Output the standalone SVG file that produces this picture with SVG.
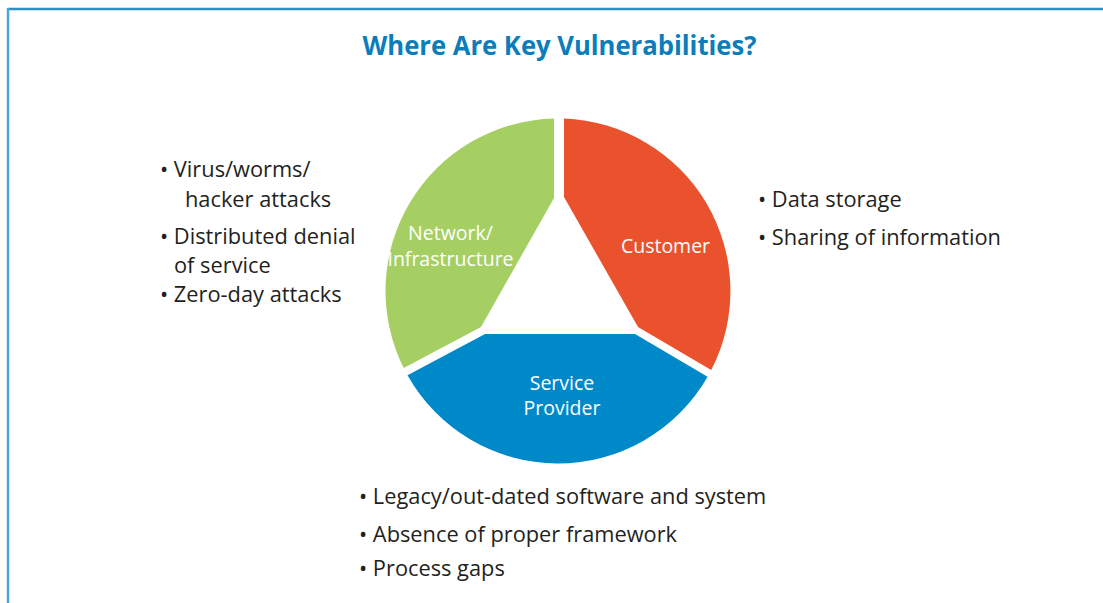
<svg xmlns="http://www.w3.org/2000/svg" width="1103" height="603" viewBox="0 0 1103 603">
<style>
.t{font-family:"Open Sans","Liberation Sans",sans-serif;font-size:21.8px;fill:#231f20}
.w{font-family:"Open Sans","Liberation Sans",sans-serif;font-size:19.5px;fill:#ffffff;text-anchor:middle}
.h{font-family:"Open Sans","Liberation Sans",sans-serif;font-size:26px;font-weight:bold;fill:#0a7dba;text-anchor:middle}
</style>
<rect width="1103" height="603" fill="#ffffff"/>
<g id="frame">
<line x1="8" y1="9" x2="1103" y2="9" stroke="#2f8fc1" stroke-width="2.5"/>
<line x1="8" y1="8" x2="8" y2="603" stroke="#4aa8d4" stroke-width="2.5"/>
</g>
<text class="h" x="559.5" y="55" textLength="394" lengthAdjust="spacingAndGlyphs">Where Are Key Vulnerabilities?</text>
<g id="connectors"></g>
<g id="network">
<path d="M403.7,368.1 A172.5,172.5 0 0 1 554,118.55 L554,198 L481,327 Z" fill="#a5cf63"/>
<text class="w" x="450.5" y="240">Network/</text>
<text class="w" x="450.5" y="265.5">Infrastructure</text>
</g>
<g id="customer">
<path d="M564,118.6 A172.5,172.5 0 0 1 711.2,370.1 L638,327 L564,197 Z" fill="#e9522c"/>
<text class="w" x="665.5" y="253">Customer</text>
</g>
<g id="service-provider">
<path d="M485,334 L635,334 L707.6,376.8 A172.5,172.5 0 0 1 407.5,375.3 Z" fill="#0089c8"/>
<text class="w" x="562" y="390">Service</text>
<text class="w" x="562" y="415">Provider</text>
</g>
<g id="network-list">
<text class="t" x="160" y="177">• Virus/worms/</text>
<text class="t" x="185" y="207">hacker attacks</text>
<text class="t" x="160" y="244">• Distributed denial</text>
<text class="t" x="174" y="273">of service</text>
<text class="t" x="160" y="302">• Zero-day attacks</text>
</g>
<g id="customer-list">
<text class="t" x="758" y="207">• Data storage</text>
<text class="t" x="758" y="245">• Sharing of information</text>
</g>
<g id="provider-list">
<text class="t" x="359" y="504">• Legacy/out-dated software and system</text>
<text class="t" x="359" y="542">• Absence of proper framework</text>
<text class="t" x="359" y="576">• Process gaps</text>
</g>
</svg>
